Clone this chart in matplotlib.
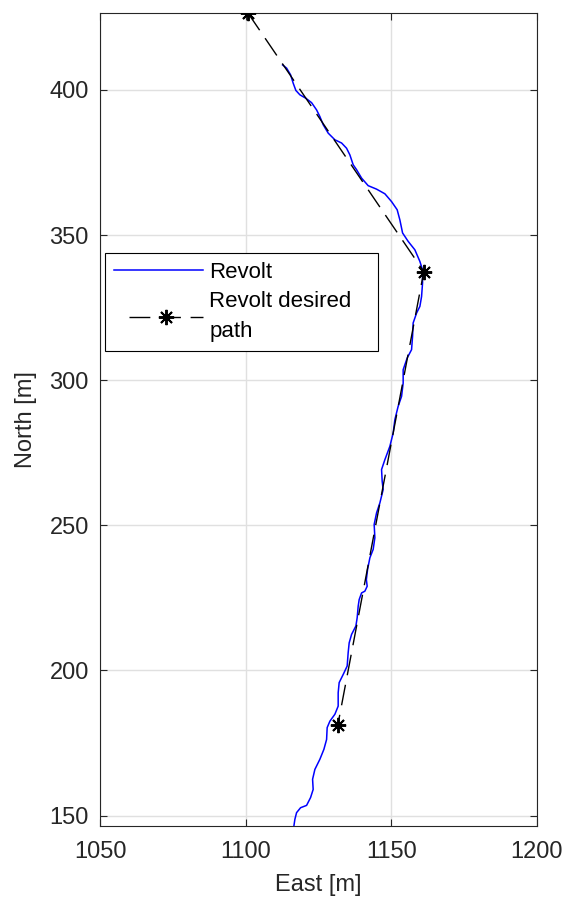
import matplotlib.pyplot as plt
from matplotlib.legend_handler import HandlerLine2D

# desired path waypoints (east, north)
wp_east = [1100.8, 1161.2, 1131.7]
wp_north = [426.5, 337.4, 181.3]

# logged vessel track (east, north), south to north
track_east = [1116.59, 1116.93, 1117.51, 1118.89, 1120.95, 1122.32, 1123.21, 1123.01, 1123.80, 1125.52,
              1126.89, 1127.82, 1128.02, 1128.95, 1130.67, 1131.80, 1131.80, 1132.14, 1133.52, 1134.89,
              1135.23, 1135.58, 1136.40, 1137.88, 1138.32, 1138.67, 1139.01, 1139.84, 1140.97, 1141.76,
              1141.48, 1141.90, 1142.69, 1143.82, 1144.40, 1144.16, 1144.99, 1146.12, 1147.25, 1146.91,
              1146.70, 1147.84, 1149.55, 1150.69, 1151.27, 1152.40, 1153.57, 1154.12, 1154.12, 1155.49,
              1157.00, 1157.35, 1157.55, 1158.72, 1159.86, 1160.44, 1160.78, 1160.78, 1159.86, 1158.14,
              1155.84, 1153.92, 1152.99, 1152.06, 1150.14, 1147.84, 1144.99, 1142.10, 1139.84, 1138.12,
              1136.95, 1135.82, 1134.68, 1132.97, 1130.67, 1128.37, 1126.65, 1125.52, 1124.38, 1122.66,
              1120.71, 1118.65, 1117.27, 1116.35, 1115.45, 1114.08, 1112.71]
track_north = [146.4, 148.7, 151.0, 152.7, 153.5, 156.2, 159.0, 162.5, 165.9, 169.4,
               172.8, 176.2, 180.3, 182.5, 184.9, 187.7, 192.3, 195.8, 198.6, 201.5,
               206.1, 209.5, 212.4, 215.3, 218.1, 222.1, 224.4, 226.7, 227.3, 229.0,
               231.3, 234.8, 238.8, 241.7, 245.7, 250.3, 254.3, 257.7, 262.3, 265.2,
               269.2, 272.6, 277.2, 281.8, 286.4, 291.0, 294.4, 299.0, 303.6, 307.6,
               310.5, 315.1, 319.7, 323.1, 325.4, 328.8, 333.5, 338.0, 340.9, 344.9,
               347.8, 350.7, 355.2, 358.7, 361.5, 364.2, 365.8, 367.0, 369.6, 372.5,
               374.2, 377.6, 379.9, 381.7, 382.8, 385.1, 388.0, 390.8, 393.1, 395.6,
               397.1, 398.3, 399.8, 402.3, 405.2, 407.5, 408.6]

plt.rcParams['font.family'] = ['Liberation Sans', 'DejaVu Sans']
dark = (0.15, 0.15, 0.15)
asterisk = (8, 2, 0)

fig = plt.figure(figsize=(5.65, 9.06), dpi=100)
ax = fig.add_axes([0.177, 0.0883, 0.773, 0.8974])

ax.plot(track_east, track_north, color='#0000ff', lw=1.1, label='Revolt', zorder=3)
path_line, = ax.plot(wp_east, wp_north, color='k', lw=1.0, dashes=(15, 7), marker=asterisk,
                     markersize=11, markeredgewidth=1.4, label='Revolt desired\npath', zorder=4)

ax.set_xlim(1050, 1200)
ax.set_ylim(146.4, 426.5)
ax.set_xticks([1050, 1100, 1150, 1200])
ax.set_yticks([150, 200, 250, 300, 350, 400])

ax.grid(True, color=(0.88, 0.88, 0.88), lw=1.0)
ax.set_axisbelow(True)
ax.tick_params(direction='in', top=True, right=True, labelsize=17, colors=dark,
               length=5, width=0.8)
ax.tick_params(axis='x', pad=11)
ax.tick_params(axis='y', pad=8)
for s in ax.spines.values():
    s.set_color(dark)
    s.set_linewidth(0.8)

ax.set_xlabel('East [m]', fontsize=17, color=dark, labelpad=8)
ax.set_ylabel('North [m]', fontsize=17, color=dark, labelpad=9)

leg = ax.legend(loc='upper left', bbox_to_anchor=(0.0114, 0.5, 0.625, 0.2048),
                mode='expand', borderaxespad=0, fontsize=16, fancybox=False,
                framealpha=1, edgecolor='k', handlelength=4.0, handletextpad=0.3,
                labelspacing=0.35, borderpad=0.4,
                handler_map={path_line: HandlerLine2D(xpad=0.7)})
leg.get_frame().set_linewidth(0.8)
for t in leg.get_texts():
    t.set_linespacing(1.6)

fig.savefig('out.png', dpi=100)
